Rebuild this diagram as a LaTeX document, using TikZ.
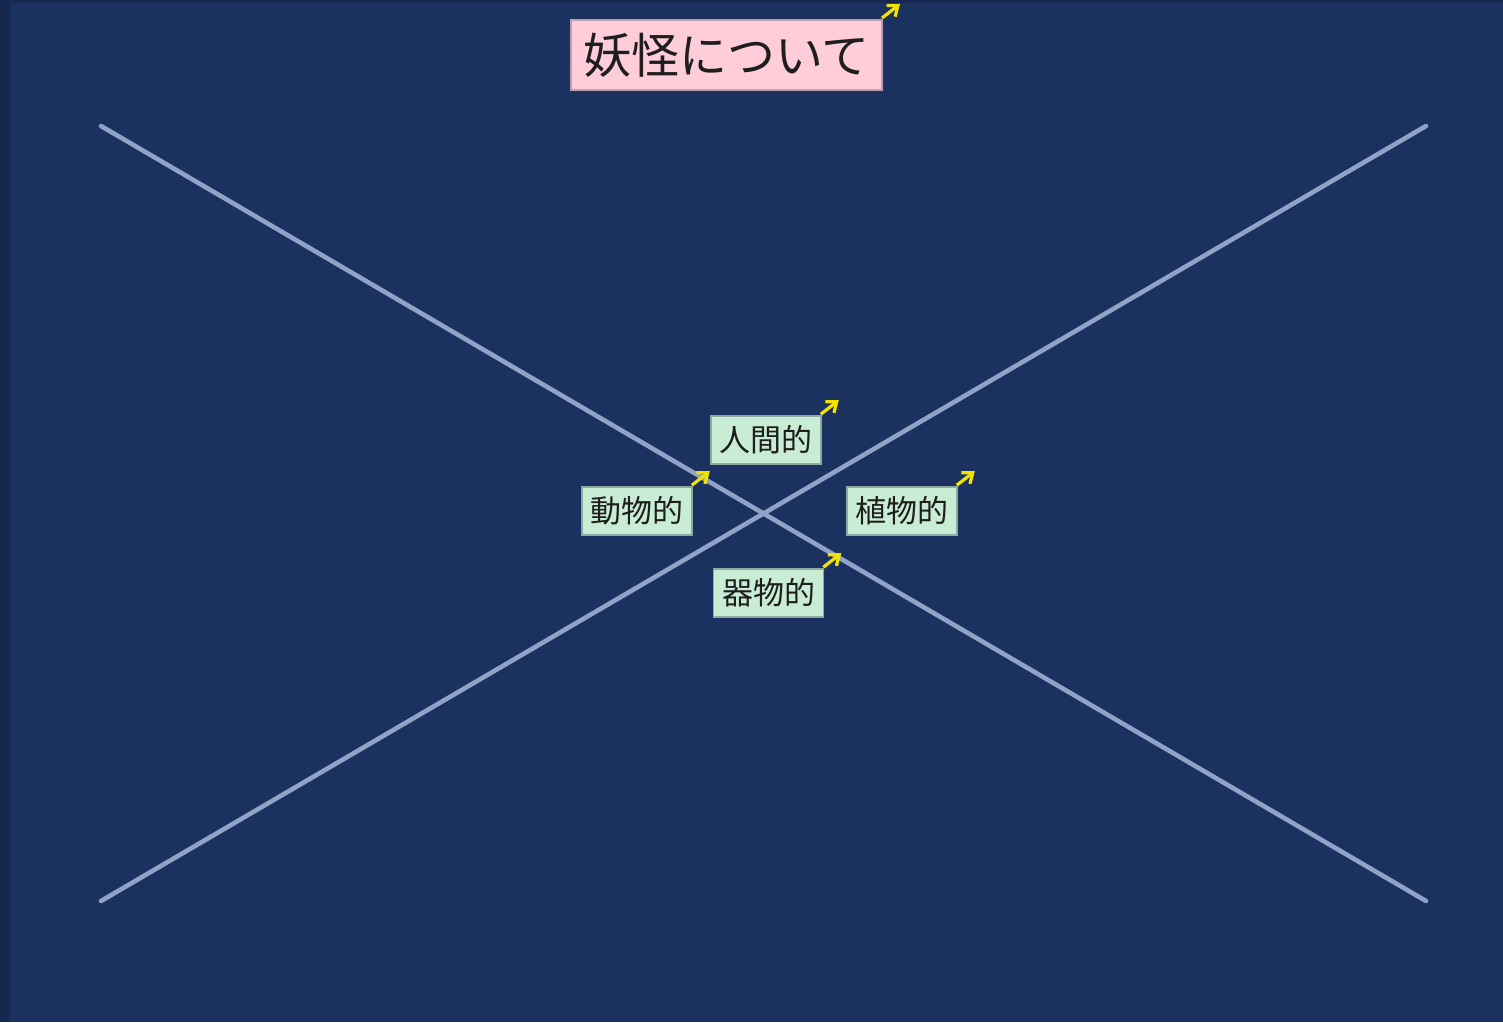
\documentclass[tikz,border=0pt]{standalone}
\usepackage{fontspec}
\newfontfamily\cjk{Noto Sans CJK JP}
\definecolor{bgnavy}{HTML}{1B3160}
\definecolor{bgedge}{HTML}{16284F}
\definecolor{linecol}{HTML}{8EA3C6}
\definecolor{pinkfill}{HTML}{FFCCDA}
\definecolor{pinkdraw}{HTML}{B8A0B0}
\definecolor{greenfill}{HTML}{C9EDD4}
\definecolor{greendraw}{HTML}{8FA8A0}
\definecolor{arrowyel}{HTML}{F2E200}
\definecolor{txt}{HTML}{1E1E1E}
\usetikzlibrary{arrows.meta}
\begin{document}
\begin{tikzpicture}[x=0.5pt,y=-0.5pt,
  titlebox/.style={draw=pinkdraw, line width=1pt, fill=pinkfill, text=txt, font=\cjk\fontsize{24}{28}\selectfont, minimum width=155.5pt, minimum height=35pt, inner sep=0pt},
  catbox/.style={draw=greendraw, line width=0.8pt, fill=greenfill, text=txt, font=\cjk\fontsize{15.5}{18}\selectfont, minimum width=55pt, minimum height=24pt, inner sep=0pt},
  axisline/.style={draw=linecol, line width=2.3pt, line cap=round},
  yarrow/.style={draw=arrowyel, line width=1.6pt, -{Straight Barb[length=4.5pt,width=7pt]}}
]
\useasboundingbox (0,0) rectangle (1503,1022);
\fill[bgnavy] (0,0) rectangle (1503,1022);
\fill[bgedge] (0,0) rectangle (10,1022);
\fill[bgedge] (0,0) rectangle (1503,3);

\coordinate (tl) at (101,126);
\coordinate (br) at (1426,901);
\coordinate (bl) at (101,901);
\coordinate (tr) at (1426,126);
\draw[axisline] (tl) -- (br);
\draw[axisline] (bl) -- (tr);

\node[titlebox] (title) at (726.5,55) {妖怪について};
\node[catbox] (human) at (766,440) {人間的};
\node[catbox] (animal) at (637,511) {動物的};
\node[catbox] (plant) at (902,511) {植物的};
\node[catbox] (object) at (768.5,593) {器物的};

\foreach \n in {title,human,animal,plant,object}{
  \draw[yarrow] (\n.north east) ++(-1,-1) -- ++(18,-14);
}
\end{tikzpicture}
\end{document}
